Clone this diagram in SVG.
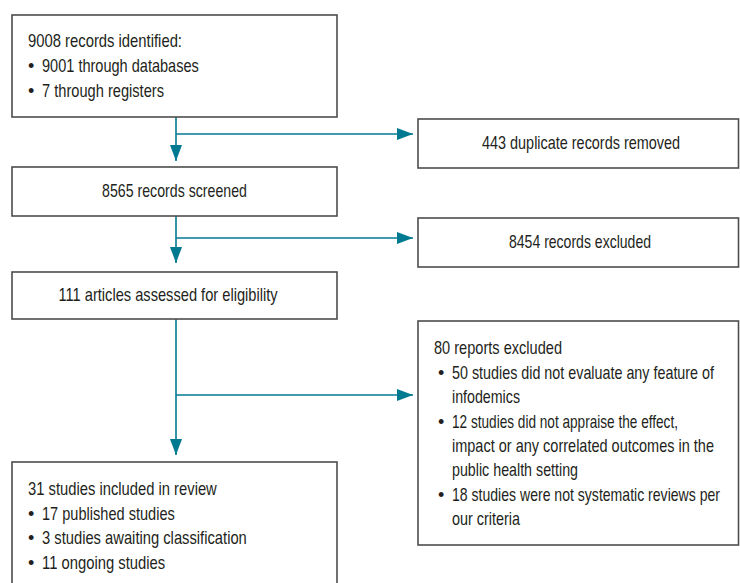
<svg xmlns="http://www.w3.org/2000/svg" width="740" height="583" viewBox="0 0 740 583">
<defs>
<style>
.box{fill:#fff;stroke:#4d4d4d;stroke-width:1.6}
.t{font-family:"Liberation Sans",Arial,sans-serif;font-size:18px;fill:#231f20}
.c{text-anchor:middle}
.ln{stroke:#007a91;stroke-width:1.6;fill:none}
</style>
<marker id="ah" markerUnits="userSpaceOnUse" markerWidth="16" markerHeight="12" refX="16" refY="6" orient="auto">
<path d="M0,0 L16,6 L0,12 z" fill="#007a91"/>
</marker>
</defs>
<rect width="740" height="583" fill="#fff"/>
<g id="connectors">
<path class="ln" d="M176,117 V161" marker-end="url(#ah)"/>
<path class="ln" d="M176,134 H413" marker-end="url(#ah)"/>
<path class="ln" d="M176,216 V263" marker-end="url(#ah)"/>
<path class="ln" d="M176,238 H413" marker-end="url(#ah)"/>
<path class="ln" d="M176,319 V455" marker-end="url(#ah)"/>
<path class="ln" d="M176,395 H413" marker-end="url(#ah)"/>
</g>
<g id="identified">
<rect class="box" x="12" y="15" width="325" height="102"/>
<text class="t" transform="matrix(0.8 0 0 1 28 0)" x="0" y="47" textLength="192.5" lengthAdjust="spacingAndGlyphs">9008 records identified:</text>
<text class="t" x="28" y="72">•</text>
<text class="t" transform="matrix(0.8 0 0 1 42 0)" x="0" y="72" textLength="196" lengthAdjust="spacingAndGlyphs">9001 through databases</text>
<text class="t" x="28" y="97">•</text>
<text class="t" transform="matrix(0.8 0 0 1 42 0)" x="0" y="97" textLength="152.5" lengthAdjust="spacingAndGlyphs">7 through registers</text>
</g>
<g id="duplicates">
<rect class="box" x="418" y="119" width="320.5" height="49"/>
<text class="t c" transform="matrix(0.8 0 0 1 581 0)" x="0" y="149" textLength="247.5" lengthAdjust="spacingAndGlyphs">443 duplicate records removed</text>
</g>
<g id="screened">
<rect class="box" x="12" y="167" width="325" height="49"/>
<text class="t c" transform="matrix(0.8 0 0 1 174.5 0)" x="0" y="197" textLength="181" lengthAdjust="spacingAndGlyphs">8565 records screened</text>
</g>
<g id="excluded">
<rect class="box" x="418" y="218" width="320.5" height="49"/>
<text class="t c" transform="matrix(0.8 0 0 1 580 0)" x="0" y="248" textLength="177.5" lengthAdjust="spacingAndGlyphs">8454 records excluded</text>
</g>
<g id="assessed">
<rect class="box" x="12" y="272" width="325" height="47"/>
<text class="t c" transform="matrix(0.8 0 0 1 168 0)" x="0" y="301" textLength="274" lengthAdjust="spacingAndGlyphs">111 articles assessed for eligibility</text>
</g>
<g id="reports">
<rect class="box" x="418" y="321" width="320.5" height="224"/>
<text class="t" transform="matrix(0.8 0 0 1 434 0)" x="0" y="354" textLength="160" lengthAdjust="spacingAndGlyphs">80 reports excluded</text>
<text class="t" x="438" y="379">•</text>
<text class="t" transform="matrix(0.8 0 0 1 452 0)" x="0" y="379" textLength="327.5" lengthAdjust="spacingAndGlyphs">50 studies did not evaluate any feature of</text>
<text class="t" transform="matrix(0.8 0 0 1 452 0)" x="0" y="403" textLength="85" lengthAdjust="spacingAndGlyphs">infodemics</text>
<text class="t" x="438" y="428">•</text>
<text class="t" transform="matrix(0.8 0 0 1 452 0)" x="0" y="428" textLength="282.5" lengthAdjust="spacingAndGlyphs">12 studies did not appraise the effect,</text>
<text class="t" transform="matrix(0.8 0 0 1 452 0)" x="0" y="452" textLength="327.5" lengthAdjust="spacingAndGlyphs">impact or any correlated outcomes in the</text>
<text class="t" transform="matrix(0.8 0 0 1 452 0)" x="0" y="476" textLength="157.5" lengthAdjust="spacingAndGlyphs">public health setting</text>
<text class="t" x="438" y="501">•</text>
<text class="t" transform="matrix(0.8 0 0 1 452 0)" x="0" y="501" textLength="335" lengthAdjust="spacingAndGlyphs">18 studies were not systematic reviews per</text>
<text class="t" transform="matrix(0.8 0 0 1 452 0)" x="0" y="525" textLength="85" lengthAdjust="spacingAndGlyphs">our criteria</text>
</g>
<g id="included">
<rect class="box" x="12" y="462" width="325" height="130"/>
<text class="t" transform="matrix(0.8 0 0 1 28 0)" x="0" y="495" textLength="236" lengthAdjust="spacingAndGlyphs">31 studies included in review</text>
<text class="t" x="28" y="520">•</text>
<text class="t" transform="matrix(0.8 0 0 1 42 0)" x="0" y="520" textLength="166" lengthAdjust="spacingAndGlyphs">17 published studies</text>
<text class="t" x="28" y="544">•</text>
<text class="t" transform="matrix(0.8 0 0 1 42 0)" x="0" y="544" textLength="256" lengthAdjust="spacingAndGlyphs">3 studies awaiting classification</text>
<text class="t" x="28" y="569">•</text>
<text class="t" transform="matrix(0.8 0 0 1 42 0)" x="0" y="569" textLength="154" lengthAdjust="spacingAndGlyphs">11 ongoing studies</text>
</g>
</svg>
